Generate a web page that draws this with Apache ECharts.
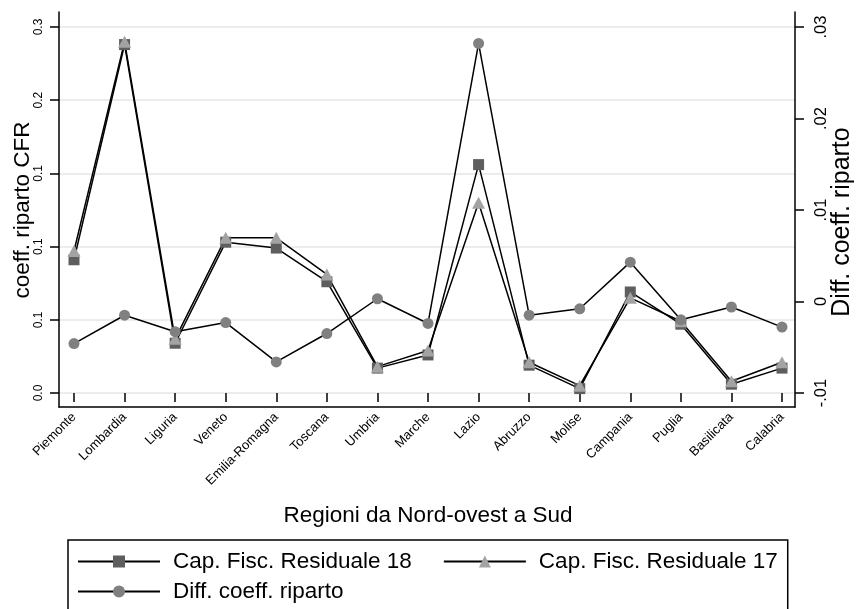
<!DOCTYPE html>
<html>
<head>
<meta charset="utf-8">
<script src="https://cdn.jsdelivr.net/npm/echarts@6/dist/echarts.min.js"></script>
<style>
html, body { margin: 0; padding: 0; background: #fff; }
#chart { width: 856px; height: 609px; }
</style>
</head>
<body>
<div id="chart"></div>
<script>
// dati
const regions = ['Piemonte', 'Lombardia', 'Liguria', 'Veneto', 'Emilia-Romagna', 'Toscana', 'Umbria', 'Marche',
  'Lazio', 'Abruzzo', 'Molise', 'Campania', 'Puglia', 'Basilicata', 'Calabria'];
const cfr18 = [0.091, 0.238, 0.034, 0.103, 0.099, 0.076, 0.017, 0.026, 0.156, 0.019, 0.003, 0.069, 0.047, 0.006, 0.017];
const cfr17 = [0.097, 0.240, 0.037, 0.106, 0.106, 0.081, 0.018, 0.029, 0.130, 0.021, 0.005, 0.065, 0.049, 0.008, 0.021];
const diffCoeff = [-0.0046, -0.0015, -0.0033, -0.0023, -0.0066, -0.0035, 0.0003, -0.0024, 0.0282, -0.0015, -0.0008, 0.0043, -0.0020, -0.0006, -0.0028];
const leftTicks = ['0.0', '0.1', '0.1', '0.1', '0.2', '0.3'];
const rightTicks = ['-.01', '0', '.01', '.02', '.03'];

const font = 'Liberation Sans, Arial, sans-serif';
const black = { color: '#000', width: 1.5 };
const lineW = 1.5;

const chart = echarts.init(document.getElementById('chart'));

const frameAxis = {
  type: 'value', min: 0, max: 1,
  axisLine: { show: true, onZero: false, lineStyle: black },
  axisTick: { show: false }, axisLabel: { show: false }, splitLine: { show: false }
};

const option = {
  animation: false,
  textStyle: { fontFamily: font, color: '#000' },
  grid: [
    { left: 59, right: 61, top: 27, bottom: 216, outerBoundsMode: 'none' },  // griglia + etichette
    { left: 59, right: 61, top: 12, bottom: 202, outerBoundsMode: 'none' },  // cornice assi
    { left: 74, right: 74, top: 27, bottom: 216, outerBoundsMode: 'none' }   // dati
  ],
  xAxis: [
    { gridIndex: 0, type: 'value', show: false },
    Object.assign({ gridIndex: 1 }, frameAxis),
    {
      gridIndex: 2, type: 'category', data: regions, boundaryGap: false, offset: 14,
      axisLine: { show: false },
      axisTick: { show: true, interval: 0, length: 9, lineStyle: black },
      axisLabel: { interval: 0, rotate: 45, fontSize: 13, color: '#000', margin: 8 },
      name: 'Regioni da Nord-ovest a Sud', nameLocation: 'middle', nameGap: 97, nameMoveOverlap: false,
      nameTextStyle: { fontSize: 22.5, color: '#000' }
    }
  ],
  yAxis: [
    {
      gridIndex: 0, type: 'value', position: 'left', min: 0, max: 0.25, interval: 0.05,
      axisLine: { show: false, onZero: false },
      axisTick: { show: true, length: 9, lineStyle: black },
      axisLabel: { rotate: 90, fontSize: 12, margin: 14.5, color: '#000',
        formatter: v => leftTicks[Math.round(v / 0.05)] },
      splitLine: { show: true, lineStyle: { color: '#e6e6e6', width: 1.5 } },
      name: 'coeff. riparto CFR', nameLocation: 'middle', nameRotate: 90, nameGap: 25, nameMoveOverlap: false,
      nameTextStyle: { fontSize: 22.5, color: '#000' }
    },
    {
      gridIndex: 0, type: 'value', position: 'right', min: -0.01, max: 0.03, interval: 0.01,
      axisLine: { show: false, onZero: false },
      axisTick: { show: true, length: 9, lineStyle: black },
      axisLabel: { rotate: 90, fontSize: 16.5, margin: 18, color: '#000',
        formatter: v => rightTicks[Math.round((v + 0.01) / 0.01)] },
      splitLine: { show: false },
      name: 'Diff. coeff. riparto', nameLocation: 'middle', nameRotate: 90, nameGap: 35, nameMoveOverlap: false,
      nameTextStyle: { fontSize: 25, color: '#000', padding: [0, 24, 0, 0] }
    },
    Object.assign({ gridIndex: 1, position: 'left' }, frameAxis),
    Object.assign({ gridIndex: 1, position: 'right' }, frameAxis),
    { gridIndex: 2, type: 'value', min: 0, max: 0.25, show: false },
    { gridIndex: 2, type: 'value', min: -0.01, max: 0.03, show: false }
  ],
  legend: {
    left: 68, top: 540, width: 730,
    itemWidth: 82, itemHeight: 15, itemGap: 5,
    padding: [9, 10, 12, 9],
    borderColor: '#000', borderWidth: 1.5,
    textStyle: { fontSize: 22.5, lineHeight: 25, color: '#000', padding: [0, 0, 0, 8] },
    data: [
      { name: 'Cap. Fisc. Residuale 18', textStyle: { padding: [0, 26, 0, 8] } },
      { name: 'Cap. Fisc. Residuale 17' },
      { name: 'Diff. coeff. riparto' }
    ]
  },
  series: [
    {
      name: 'Cap. Fisc. Residuale 18', type: 'line', xAxisIndex: 2, yAxisIndex: 4, data: cfr18,
      symbol: 'rect', symbolSize: 11, showAllSymbol: true,
      itemStyle: { color: '#5e5e5e' }, lineStyle: { color: '#000', width: lineW }
    },
    {
      name: 'Cap. Fisc. Residuale 17', type: 'line', xAxisIndex: 2, yAxisIndex: 4, data: cfr17,
      symbol: 'triangle', symbolSize: [13, 12], showAllSymbol: true,
      itemStyle: { color: '#a3a3a3' }, lineStyle: { color: '#000', width: lineW }
    },
    {
      name: 'Diff. coeff. riparto', type: 'line', xAxisIndex: 2, yAxisIndex: 5, data: diffCoeff,
      symbol: 'circle', symbolSize: 11, showAllSymbol: true,
      itemStyle: { color: '#808080' }, lineStyle: { color: '#000', width: lineW }
    }
  ]
};

chart.setOption(option);
</script>
</body>
</html>
